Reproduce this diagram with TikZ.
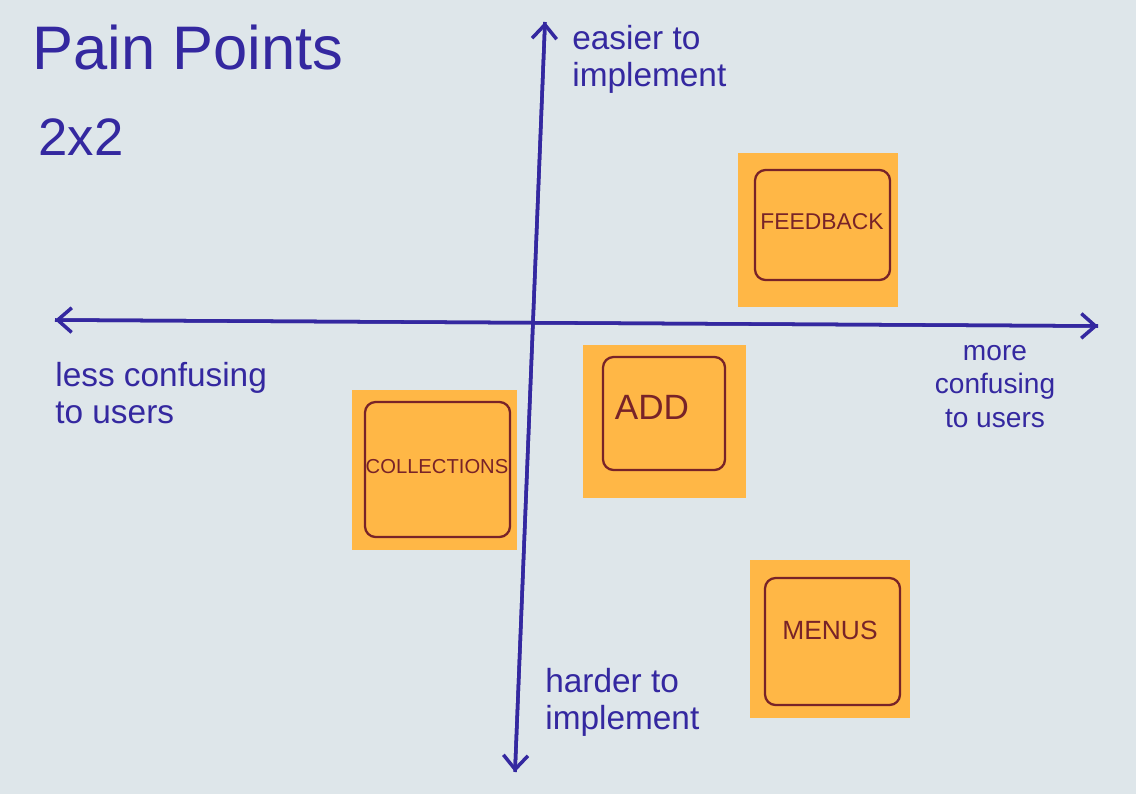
\documentclass[tikz,border=0pt]{standalone}
\usepackage{fontspec}
\setmainfont{Liberation Sans}
\usetikzlibrary{arrows.meta}
\definecolor{board}{RGB}{222,230,234}
\definecolor{ink}{RGB}{52,40,160}
\definecolor{note}{RGB}{255,183,70}
\definecolor{redink}{RGB}{120,35,40}
\tikzset{
  axis/.style={draw=ink,line width=2pt,-{Straight Barb[length=8pt,width=14pt]}},
  lbl/.style={text=ink,font=\fontsize{19}{21}\selectfont,align=left,anchor=north west,inner sep=0pt},
  sticky/.style={fill=note,draw=none},
  inner/.style={draw=redink,line width=1.3pt,rounded corners=6pt},
  notetxt/.style={text=redink,font=\fontsize{13}{15}\selectfont}
}
\begin{document}
\begin{tikzpicture}[x=0.02cm,y=-0.02cm]
\fill[board] (0,0) rectangle (1136,794);
\useasboundingbox (0,0) rectangle (1136,794);
% title
\node[lbl,font=\fontsize{35}{37}\selectfont] (title) at (32,25) {Pain Points};
\node[lbl,font=\fontsize{30}{32}\selectfont] (sub) at (38,118) {2x2};
% axes
\coordinate (top) at (545,22);
\coordinate (bot) at (515,772);
\coordinate (lft) at (55,320);
\coordinate (rgt) at (1098,326);
\draw[axis] (bot) -- (top);
\draw[axis] (rgt) -- (lft);
\draw[axis] (lft) -- (rgt);
\draw[axis] (top) -- (bot);
% labels
\node[lbl] (easy) at (572,25) {easier to\\implement};
\node[lbl] (less) at (55,362) {less confusing\\to users};
\node[lbl,align=center,anchor=north,font=\fontsize{16}{19}\selectfont] (more) at (995,345) {more\\confusing\\to users};
\node[lbl] (hard) at (545,668) {harder to\\implement};
% sticky notes
\fill[sticky] (738,153) rectangle (898,307);
\draw[inner] (755,170) rectangle (890,280);
\node[notetxt] (fb) at (822,222) {FEEDBACK};
\fill[sticky] (583,345) rectangle (746,498);
\draw[inner] (603,357) rectangle (725,470);
\node[notetxt,font=\fontsize{20}{22}\selectfont] (add) at (652,407) {ADD};
\fill[sticky] (352,390) rectangle (517,550);
\draw[inner] (365,402) rectangle (510,537);
\node[notetxt,font=\fontsize{11.5}{13}\selectfont] (col) at (437,467) {COLLECTIONS};
\fill[sticky] (750,560) rectangle (910,718);
\draw[inner] (765,578) rectangle (900,705);
\node[notetxt,font=\fontsize{15}{17}\selectfont] (men) at (830,630) {MENUS};
\end{tikzpicture}
\end{document}
